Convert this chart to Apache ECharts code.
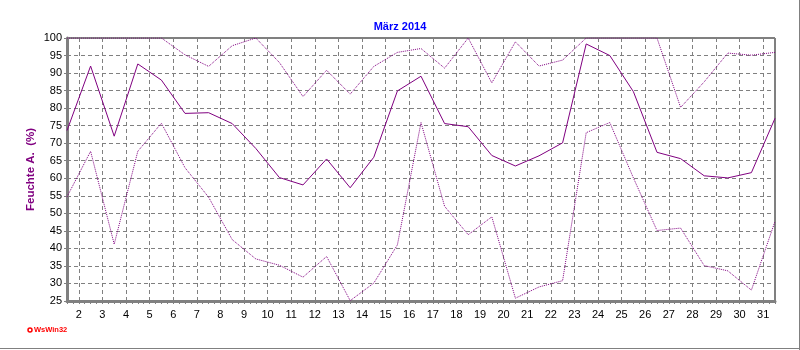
<!DOCTYPE html>
<html>
<head>
<meta charset="utf-8">
<script src="https://cdn.jsdelivr.net/npm/echarts@6/dist/echarts.min.js"></script>
<style>html,body{margin:0;padding:0;background:#fff;}#c{width:800px;height:350px;}</style>
</head>
<body>
<div id="c"></div>
<script>
const days = [1,2,3,4,5,6,7,8,9,10,11,12,13,14,15,16,17,18,19,20,21,22,23,24,25,26,27,28,29,30,31];
const maxValues = [100,100,100,100,100,95.2,91.9,97.8,100,93,83.3,90.8,84.0,91.9,95.9,97.0,91.4,100,87.2,98.9,92.0,93.7,100,100,100,100,80.2,87.5,95.7,95.1,95.9];
const meanValues = [73.6,92.0,72.0,92.6,88.0,78.5,78.7,75.6,68.5,60.2,58.1,65.5,57.3,66.0,84.9,89.1,75.6,74.7,66.5,63.5,66.4,70.1,98.3,95.0,84.7,67.4,65.6,60.7,60.1,61.6,77.1];
const minValues = [54.7,67.7,41.2,67.7,75.7,63.0,54.6,42.5,37.0,35.2,31.8,37.7,25.1,30.1,41.0,75.9,52.0,43.9,49.0,25.8,29.0,30.8,73.0,75.9,60.1,45.1,45.8,35.1,33.6,28.1,47.7];
const yTicks = {min: 25, max: 100, interval: 5};
const titleText = 'März 2014';
const yName = 'Feuchte A.  (%)';

const toPts = arr => arr.map((v, i) => [days[i] + 0.5, v]);
const purple = '#800080';
const font = 'Liberation Sans, Arial, sans-serif';

const chart = echarts.init(document.getElementById('c'), null, {renderer: 'canvas'});
chart.setOption({
  animation: false,
  backgroundColor: '#fff',
  title: {
    text: titleText, left: 'center', top: 16,
    textStyle: {color: '#0000ff', fontSize: 11, fontWeight: 'bold', fontFamily: font}
  },
  grid: {left: 67, right: 25, top: 38, bottom: 49, show: true, borderColor: '#000', borderWidth: 1, backgroundColor: 'transparent'},
  xAxis: {
    type: 'value', min: 1.5, max: 31.5, splitNumber: 30, minInterval: 1, maxInterval: 1,
    axisLine: {show: true, onZero: false, lineStyle: {color: '#808080', width: 3}},
    axisTick: {show: true, length: 3, lineStyle: {color: '#808080'}},
    minorTick: {show: true, splitNumber: 4, length: 3, lineStyle: {color: '#808080'}},
    axisLabel: {
      color: '#000', fontSize: 11, fontFamily: font, margin: 8,
      formatter: v => (Math.abs(v - Math.round(v)) < 1e-6 ? String(Math.round(v)) : '')
    },
    splitLine: {show: true, lineStyle: {color: '#808080', type: [4, 3], width: 1}}
  },
  yAxis: {
    type: 'value', min: yTicks.min, max: yTicks.max, interval: yTicks.interval,
    name: yName, nameLocation: 'middle', nameGap: 30, nameRotate: 90, nameMoveOverlap: false,
    nameTextStyle: {color: purple, fontSize: 11.5, fontWeight: 'bold', fontFamily: font},
    axisLine: {show: true, lineStyle: {color: '#808080', width: 3}},
    axisTick: {show: true, length: 3, lineStyle: {color: '#808080'}},
    axisLabel: {color: '#000', fontSize: 11, fontFamily: font, margin: 5},
    splitLine: {show: true, lineStyle: {color: '#808080', type: [4, 3], width: 1}}
  },
  series: [
    {type: 'line', data: toPts(maxValues), symbol: 'none', lineStyle: {color: purple, width: 1, type: [1, 1]}, itemStyle: {color: purple}},
    {type: 'line', data: toPts(meanValues), symbol: 'none', lineStyle: {color: purple, width: 1}, itemStyle: {color: purple}},
    {type: 'line', data: toPts(minValues), symbol: 'none', lineStyle: {color: purple, width: 1, type: [1, 1]}, itemStyle: {color: purple}}
  ],
  graphic: [
    {type: 'circle', shape: {cx: 30, cy: 330, r: 2}, style: {fill: '#fff', stroke: '#ff0000', lineWidth: 1.5}},
    {type: 'text', x: 34, y: 326, style: {text: 'WsWin32', fill: '#ff0000', font: 'bold 7.5px ' + font}},
    {type: 'line', shape: {x1: 0, y1: 348.5, x2: 800, y2: 348.5}, style: {stroke: '#808080', lineWidth: 1}},
    {type: 'line', shape: {x1: 799.5, y1: 0, x2: 799.5, y2: 350}, style: {stroke: '#808080', lineWidth: 1}}
  ]
});
</script>
</body>
</html>
